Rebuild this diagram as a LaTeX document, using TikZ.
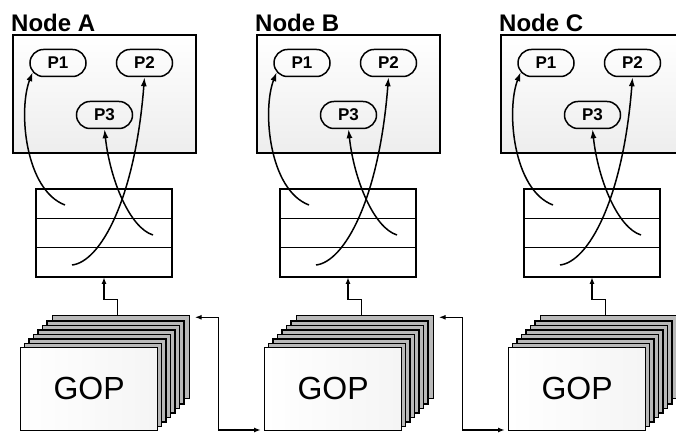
\documentclass[tikz,border=0pt]{standalone}
\usepackage{fontspec}
\setmainfont{Liberation Sans}
\usepackage{tikz}
\usetikzlibrary{arrows.meta,positioning,shapes.misc,calc}

\begin{document}
\begin{tikzpicture}[x=1pt, y=1pt,
  lbl/.style={font=\fontsize{24}{26}\selectfont\bfseries, inner sep=0pt},
  hostbox/.style={draw, line width=1.7pt, top color=white, bottom color=gray!14,
    inner sep=0pt, minimum width=183pt, minimum height=118pt},
  proc/.style={draw, rounded rectangle, line width=1.5pt, minimum width=56pt,
    minimum height=27pt, inner sep=0pt, font=\fontsize{17}{19}\selectfont\bfseries},
  row/.style={draw, line width=1.5pt, fill=white, minimum width=136pt,
    minimum height=29.33pt, inner sep=0pt, outer sep=0pt},
  page/.style={draw, line width=1.2pt, fill=gray!55, minimum width=137pt,
    minimum height=83pt, inner sep=0pt},
  flow/.style={line width=1.5pt, -{Latex[length=9pt,width=6pt]}},
  link/.style={line width=1.4pt, -{Latex[length=7pt,width=5pt]}},
  dlink/.style={line width=1.4pt, {Latex[length=7pt,width=5pt]}-{Latex[length=7pt,width=5pt]}}]
  \useasboundingbox (0,0) rectangle (676,433);
  \clip (0,0) rectangle (676,433);

  \foreach \dx/\n in {0/A,244/B,488/C}{
    \begin{scope}[xshift=\dx pt]
      \node[lbl, anchor=base west] (lbl\n) at (11,401) {Node \n};
      \node[hostbox, anchor=north west] (box\n) at (12,399) {};
      \node[proc] (p1\n) at (58,370) {P1};
      \node[proc] (p2\n) at (144.5,370) {P2};
      \node[proc] (p3\n) at (104.5,318) {P3};

      \node[row, anchor=north] (r1\n) at (104,244) {};
      \node[row, below=0pt of r1\n] (r2\n) {};
      \node[row, below=0pt of r2\n] (r3\n) {};
      \coordinate (s1\n) at (65,228);
      \coordinate (s2\n) at (72,168);
      \coordinate (s3\n) at (153,198);
      \draw[flow] (s1\n) .. controls (25,243) and (18,323) .. (p1\n.200);
      \draw[flow] (s2\n) .. controls (100,171) and (135,233) .. (p2\n.south);
      \draw[flow] (s3\n) .. controls (130,205) and (110,253) .. (p3\n.south);

      \node[page, anchor=south west] (gopbk\n) at (51.5,33.5) {};
      \foreach \i in {6,...,1}
        \draw[page] (20+4.5*\i,2+4.5*\i) rectangle ++(137,83);
      \node[page, left color=white, right color=gray!8, anchor=south west,
        font=\fontsize{32}{34}\selectfont] (gop\n) at (20,2) {GOP};
      \draw[link] ([xshift=-3pt]gopbk\n.north) -- ++(0,16) -| (r3\n.south);
    \end{scope}
  }

  \draw[dlink] ([shift={(5pt,-2pt)}]gopbkA.north east) -- ++(24,0) |- ([shift={(-3pt,1pt)}]gopB.south west);
  \draw[dlink] ([shift={(5pt,-2pt)}]gopbkB.north east) -- ++(24,0) |- ([shift={(-3pt,1pt)}]gopC.south west);
\end{tikzpicture}
\end{document}
